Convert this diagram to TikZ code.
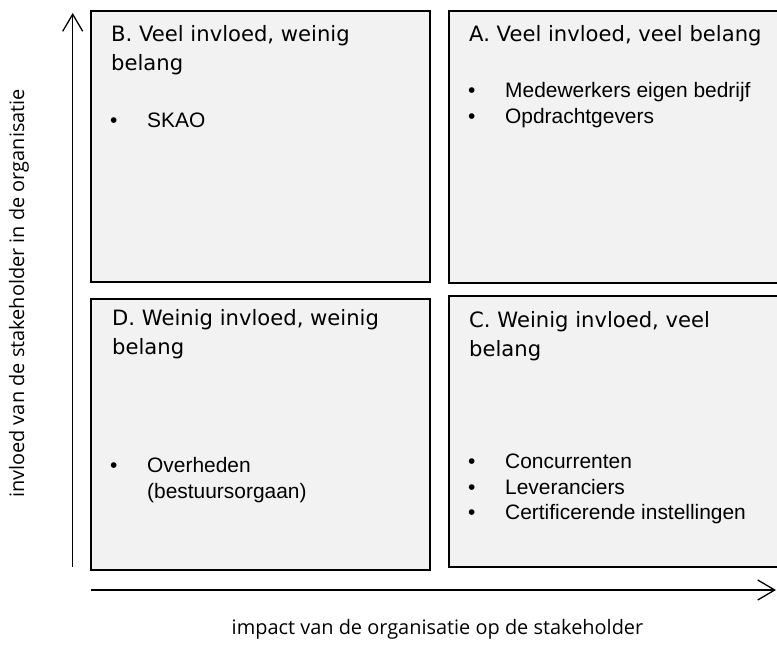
\documentclass[tikz,border=0pt]{standalone}
\usepackage{fontspec}
\usetikzlibrary{arrows.meta}
\newfontfamily\kopfont{DejaVu Sans}
\newfontfamily\lijstfont{Liberation Sans}
\newfontfamily\asfont{Open Sans}
\definecolor{vakgrijs}{HTML}{F2F2F2}
% kop = titel van een kwadrant, lijst = opsomming met bolletjes
\newcommand{\kop}[1]{\begin{tabular}[t]{@{}l@{}}#1\end{tabular}}
\newcommand{\lijst}[1]{\begin{tabular}[t]{@{}p{37bp}@{}l@{}}#1\end{tabular}}

\begin{document}
\begin{tikzpicture}[x=1bp,y=1bp,
		vak/.style={draw, fill=vakgrijs, line width=1.6bp, inner sep=0pt, anchor=north west},
		koptekst/.style={anchor=base west, inner sep=0pt, font=\kopfont\fontsize{21.2}{28.3}\selectfont},
		lijsttekst/.style={anchor=base west, inner sep=0pt, font=\lijstfont\fontsize{21}{25.5}\selectfont},
		aslabel/.style={inner sep=0pt, font=\asfont\fontsize{20}{24}\selectfont},
		as/.style={line width=1.3bp, -{Straight Barb[length=17bp,width=20bp,line width=1.3bp]}}]
				\path[use as bounding box, clip] (0,0) rectangle (777,646);
				% de vier kwadranten
				\node[vak, minimum width=339bp, minimum height=271bp] (vakB) at (90,636) {};
				\node[vak, minimum width=345bp, minimum height=272bp] (vakA) at (448,636) {};
				\node[vak, minimum width=339bp, minimum height=271bp] (vakD) at (90,348) {};
				\node[vak, minimum width=345bp, minimum height=271bp] (vakC) at (448,351) {};
				% titels
				\node[koptekst] (kopB) at (111,604) {\kop{B. Veel invloed, weinig\\ belang}};
				\node[koptekst] (kopA) at (469,604) {\kop{A. Veel invloed, veel belang}};
				\node[koptekst] (kopD) at (112,320) {\kop{D. Weinig invloed, weinig\\ belang}};
				\node[koptekst] (kopC) at (469,318) {\kop{C. Weinig invloed, veel\\ belang}};
				% opsommingen
				\node[lijsttekst] (lijstB) at (110,518) {\lijst{\textbullet & SKAO}};
				\node[lijsttekst] (lijstA) at (468,548) {\lijst{\textbullet & Medewerkers eigen bedrijf\\ \textbullet & Opdrachtgevers}};
				\node[lijsttekst] (lijstD) at (110,173) {\lijst{\textbullet & Overheden\\ & (bestuursorgaan)}};
				\node[lijsttekst] (lijstC) at (468,177) {\lijst{\textbullet & Concurrenten\\ \textbullet & Leveranciers\\ \textbullet & Certificerende instellingen}};
				% assen
				\coordinate (yonder) at (72.7,79);
				\coordinate (yboven) at (72.7,633);
				\coordinate (xlinks) at (91,56);
				\coordinate (xrechts) at (776,56);
				\draw[as] (yonder) -- (yboven);
				\draw[as] (xlinks) -- (xrechts);
				\node[aslabel] (xlabel) at (437.5,17) {impact van de organisatie op de stakeholder};
				\node[aslabel, rotate=90] (ylabel) at (19,352.5) {invloed van de stakeholder in de organisatie};
			\end{tikzpicture}
\end{document}
